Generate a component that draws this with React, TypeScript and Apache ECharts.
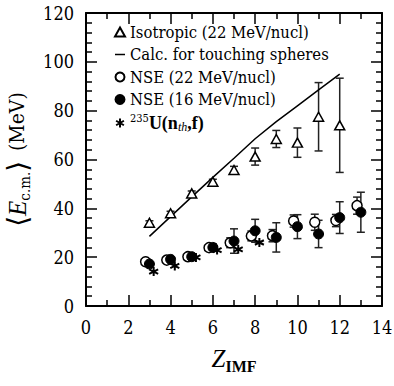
import React, { useEffect, useRef } from "react";
import * as echarts from "echarts";

// Fragment charge Z of each measured point
const zIso = [3, 4, 5, 6, 7, 8, 9, 10, 11, 12];
const isoMean = [34.1, 38.0, 46.1, 50.9, 55.7, 61.2, 68.4, 66.9, 77.5, 74.0];
const isoErr = [0.8, 0.8, 1.0, 1.0, 1.5, 3.5, 3.5, 6.0, 14.0, 19.3];

// Coulomb energy of touching spheres
const zCalc = [3, 4, 5, 6, 7, 8, 9, 10, 11, 12];
const calcVals = [28.5, 36.6, 44.7, 52.7, 60.5, 68.5, 75.5, 82.0, 88.5, 95.0];

const zNse = [3, 4, 5, 6, 7, 8, 9, 10, 11, 12, 13];
const nse22 = [18.1, 18.8, 20.2, 23.9, 25.9, 28.7, 28.8, 34.8, 34.3, 35.0, 41.1];
const nse22Err = [1.0, 1.0, 1.0, 1.0, 2.0, 2.0, 2.5, 2.5, 3.3, 2.5, 3.5];
const nse16 = [17.2, 19.1, 20.2, 24.0, 26.6, 30.8, 28.1, 32.5, 29.5, 36.2, 38.4];
const nse16Err = [1.0, 1.0, 1.0, 1.5, 5.0, 4.7, 6.0, 4.9, 5.6, 6.5, 8.2];

const zU = [3, 4, 5, 6, 7, 8];
const u235 = [14.1, 16.4, 19.9, 22.9, 23.2, 26.0];

const xTicks = [0, 14, 2];
const yTicks = [0, 120, 20];

// regular text uses the condensed DejaVu serif; bold and italic use Liberation Serif
const REG = "DejaVu Serif Condensed, DejaVu Serif";
const LIB = "Liberation Serif";
const STAR = "path://M0,-5L0,5M-4.33,-2.5L4.33,2.5M-4.33,2.5L4.33,-2.5";
const DASH = "path://M0,0L10,0L10,1.5L0,1.5Z";

const NAME_ISO = "Isotropic (22 MeV/nucl)";
const NAME_CALC = "Calc. for touching spheres";
const NAME_N22 = "NSE (22 MeV/nucl)";
const NAME_N16 = "NSE (16 MeV/nucl)";
const NAME_U = "235U(nth,f)";

// x positions are shifted slightly so overlapping sets stay visible
const shiftN22 = -0.18;
const shiftU = 0.2;

const font = (size: number, extra: Record<string, any> = {}) => ({
  fontFamily: REG,
  fontSize: size,
  color: "#000",
  ...extra,
});

function errorData(z: number[], mean: number[], err: number[], shift: number) {
  return z.map((v, i) => [v + shift, mean[i] - err[i], mean[i] + err[i]]);
}

function errorSeries(data: number[][], color: string) {
  return {
    type: "custom",
    xAxisIndex: 0,
    yAxisIndex: 0,
    z: 1,
    silent: true,
    data,
    renderItem: (_params: any, api: any) => {
      const lo = api.coord([api.value(0), api.value(1)]);
      const hi = api.coord([api.value(0), api.value(2)]);
      const cap = 4;
      const style = { stroke: color, lineWidth: 1.5 };
      return {
        type: "group",
        children: [
          { type: "line", shape: { x1: lo[0], y1: lo[1], x2: hi[0], y2: hi[1] }, style },
          { type: "line", shape: { x1: lo[0] - cap, y1: lo[1], x2: lo[0] + cap, y2: lo[1] }, style },
          { type: "line", shape: { x1: hi[0] - cap, y1: hi[1], x2: hi[0] + cap, y2: hi[1] }, style },
        ],
      };
    },
  };
}

function axisCommon(showLabels: boolean, minorSplit: number) {
  return {
    axisLine: { show: true, onZero: false, lineStyle: { color: "#000", width: 2 } },
    axisTick: { show: true, inside: true, length: 11, lineStyle: { color: "#000", width: 1.5 } },
    minorTick: { show: true, splitNumber: minorSplit, length: 6, lineStyle: { color: "#000", width: 1.5 } },
    splitLine: { show: false },
    minorSplitLine: { show: false },
    axisLabel: { show: showLabels, margin: 12, ...font(18) },
  };
}

export default function App() {
  const ref = useRef<HTMLDivElement>(null);

  useEffect(() => {
    if (!ref.current) return;
    const chart = echarts.init(ref.current, undefined, { renderer: "svg" });

    const xBase = { type: "value", min: xTicks[0], max: xTicks[1], interval: xTicks[2] };
    const yBase = { type: "value", min: yTicks[0], max: yTicks[1], interval: yTicks[2] };

    chart.setOption({
      animation: false,
      backgroundColor: "#fff",
      textStyle: font(17),
      grid: { left: 86, right: 12, top: 13, bottom: 80, containLabel: false, outerBoundsMode: "none" },
      xAxis: [
        {
          ...xBase,
          ...axisCommon(true, 2),
          position: "bottom",
          name: "{z|Z}{sub|IMF}",
          nameLocation: "middle",
          nameGap: 40,
          nameTextStyle: {
            rich: {
              z: font(25, { fontFamily: LIB, fontStyle: "italic", lineHeight: 28, verticalAlign: "top" }),
              sub: font(16, { fontFamily: LIB, fontWeight: "bold", lineHeight: 20, verticalAlign: "bottom" }),
            },
          },
        },
        { ...xBase, ...axisCommon(false, 2), position: "top" },
      ],
      yAxis: [
        {
          ...yBase,
          ...axisCommon(true, 5),
          position: "left",
          name: "{ang|\u27E8}{e|E}{sub|c.m.}{ang|\u27E9}  {n|(MeV)}",
          nameLocation: "middle",
          nameRotate: 90,
          nameGap: 53,
          nameTextStyle: {
            rich: {
              ang: font(28, { fontFamily: "DejaVu Serif", lineHeight: 30, verticalAlign: "middle" }),
              e: font(25, { fontFamily: LIB, fontStyle: "italic", lineHeight: 30, verticalAlign: "middle" }),
              sub: font(15, { lineHeight: 19, verticalAlign: "bottom" }),
              n: font(21, { lineHeight: 30, verticalAlign: "middle" }),
            },
          },
        },
        { ...yBase, ...axisCommon(false, 5), position: "right" },
      ],
      legend: {
        orient: "vertical",
        left: 109,
        top: 18,
        itemWidth: 10,
        itemHeight: 9,
        itemGap: 4.5,
        symbolKeepAspect: true,
        data: [NAME_ISO, { name: NAME_CALC, icon: DASH }, NAME_N22, NAME_N16, NAME_U],
        formatter: (name: string) =>
          name === NAME_U ? "{sup|235}{b|U(n}{sub|th}{b|,f)}" : name,
        textStyle: {
          ...font(16.5),
          lineHeight: 18,
          padding: [0, 0, 0, 0],
          rich: {
            sup: font(11, { lineHeight: 12, verticalAlign: "top" }),
            b: font(18, { fontFamily: LIB, fontWeight: "bold", lineHeight: 20, verticalAlign: "middle" }),
            sub: font(12, { fontFamily: LIB, fontStyle: "italic", lineHeight: 12, verticalAlign: "bottom" }),
          },
        },
      },
      series: [
        errorSeries(errorData(zIso, isoMean, isoErr, 0), "#222"),
        errorSeries(errorData(zNse, nse22, nse22Err, shiftN22), "#222"),
        errorSeries(errorData(zNse, nse16, nse16Err, 0), "#222"),
        {
          name: NAME_CALC,
          type: "line",
          xAxisIndex: 0,
          yAxisIndex: 0,
          symbol: "none",
          z: 2,
          lineStyle: { color: "#000", width: 1.5 },
          itemStyle: { color: "#000" },
          data: zCalc.map((z, i) => [z, calcVals[i]]),
        },
        {
          name: NAME_ISO,
          type: "scatter",
          xAxisIndex: 0,
          yAxisIndex: 0,
          symbol: "triangle",
          symbolSize: [10, 9],
          z: 4,
          itemStyle: { color: "#fff", borderColor: "#000", borderWidth: 1.5, opacity: 1 },
          data: zIso.map((z, i) => [z, isoMean[i]]),
        },
        {
          name: NAME_U,
          type: "scatter",
          xAxisIndex: 0,
          yAxisIndex: 0,
          symbol: STAR,
          symbolSize: 9,
          z: 3,
          itemStyle: { color: "#000", borderColor: "#000", borderWidth: 2, opacity: 1 },
          data: zU.map((z, i) => [z + shiftU, u235[i]]),
        },
        {
          name: NAME_N22,
          type: "scatter",
          xAxisIndex: 0,
          yAxisIndex: 0,
          symbol: "circle",
          symbolSize: 10,
          z: 5,
          itemStyle: { color: "#fff", borderColor: "#000", borderWidth: 1.5, opacity: 1 },
          data: zNse.map((z, i) => [z + shiftN22, nse22[i]]),
        },
        {
          name: NAME_N16,
          type: "scatter",
          xAxisIndex: 0,
          yAxisIndex: 0,
          symbol: "circle",
          symbolSize: 10,
          z: 6,
          itemStyle: { color: "#000", borderColor: "#000", borderWidth: 1, opacity: 1 },
          data: zNse.map((z, i) => [z, nse16[i]]),
        },
      ],
    });

    return () => chart.dispose();
  }, []);

  return (
    <div
      ref={ref}
      style={{ position: "fixed", left: 0, top: 0, width: 394, height: 386, background: "#fff" }}
    />
  );
}
